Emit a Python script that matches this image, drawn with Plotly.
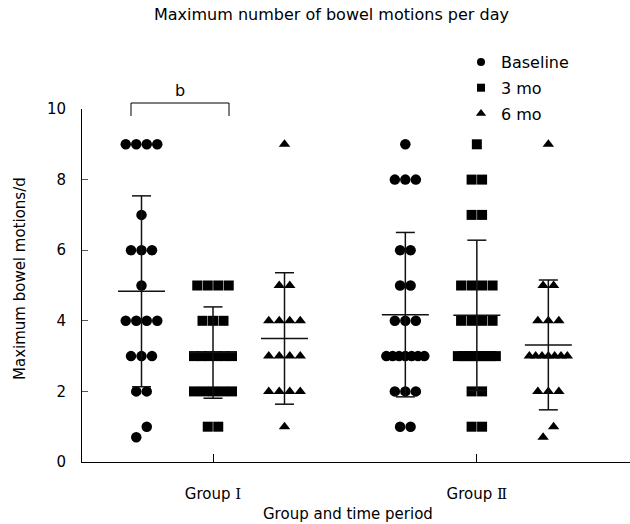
import numpy as np
import plotly.graph_objects as go

# ---- data ----
groups = ["Group Ⅰ", "Group Ⅱ"]
periods = ["Baseline", "3 mo", "6 mo"]

g1_baseline = [9, 9, 9, 9, 7, 6, 6, 6, 5, 4, 4, 4, 4, 3, 3, 3, 2, 2, 1, 0.7]
g1_3mo = [5, 5, 5, 5, 4, 4, 4, 3, 3, 3, 3, 3, 3, 2, 2, 2, 2, 2, 1, 1]
g1_6mo = [9, 5, 5, 4, 4, 4, 4, 3, 3, 3, 3, 2, 2, 2, 2, 1]
g2_baseline = [9, 8, 8, 8, 6, 6, 5, 5, 4, 4, 4, 3, 3, 3, 3, 3, 3, 3, 2, 2, 2, 1, 1]
g2_3mo = [9, 8, 8, 7, 7, 5, 5, 5, 5, 4, 4, 4, 4, 3, 3, 3, 3, 3, 3, 3, 3, 3, 2, 2, 1, 1]
g2_6mo = [9, 5, 5, 4, 4, 4, 3, 3, 3, 3, 3, 3, 3, 2, 2, 2, 1, 0.7]

values = {
    ("Group Ⅰ", "Baseline"): g1_baseline,
    ("Group Ⅰ", "3 mo"): g1_3mo,
    ("Group Ⅰ", "6 mo"): g1_6mo,
    ("Group Ⅱ", "Baseline"): g2_baseline,
    ("Group Ⅱ", "3 mo"): g2_3mo,
    ("Group Ⅱ", "6 mo"): g2_6mo,
}

# ---- layout / style ----
FONT = "DejaVu Sans"
PX_PER_UNIT = 71.5
group_center = {"Group Ⅰ": 2.0, "Group Ⅱ": 5.69}
period_offset = {"Baseline": -1.0, "3 mo": 0.0, "6 mo": 1.0}
symbols = {"Baseline": "circle", "3 mo": "square", "6 mo": "triangle-up"}
sizes = {"Baseline": 10.5, "3 mo": 10, "6 mo": 10}
legend_sizes = {"Baseline": 8, "3 mo": 8, "6 mo": 9}


def spread(vals, center):
    """Horizontal scatter of points sharing (rounded) the same value."""
    vals = sorted(vals)
    rows = {}
    for v in vals:
        rows.setdefault(int(round(v)), []).append(v)
    xs, ys = [], []
    for key, row in rows.items():
        n = len(row)
        sp = 10.5 if n == 1 else min(10.5, 38.0 / (n - 1))
        for i, v in enumerate(row):
            xs.append(center + (i - (n - 1) / 2) * sp / PX_PER_UNIT)
            ys.append(v)
    return xs, ys


def tick_label(g):
    name, num = g.split(" ")
    return f"{name} <span style=\"font-family:'DejaVu Serif'\">{num}</span>"


fig = go.Figure()

for p in periods:
    X, Y = [], []
    for g in groups:
        c = group_center[g] + period_offset[p]
        xs, ys = spread(values[(g, p)], c)
        X += xs
        Y += ys
    fig.add_trace(go.Scatter(
        x=X, y=Y, mode="markers", name=p, showlegend=False,
        marker=dict(symbol=symbols[p], size=sizes[p], color="black",
                    line=dict(width=0)),
        cliponaxis=False,
    ))

# legend entries
for p in periods:
    fig.add_trace(go.Scatter(
        x=[None], y=[None], mode="markers", name=p, legendgroup=p,
        marker=dict(symbol=symbols[p], size=legend_sizes[p], color="black",
                    line=dict(width=0)),
    ))

# mean ± SD bars
cap_half = 9.5 / PX_PER_UNIT
mean_half = 23.5 / PX_PER_UNIT
LX, LY = [], []
for g in groups:
    for p in periods:
        arr = np.array(values[(g, p)], dtype=float)
        m = arr.mean()
        sd = arr.std(ddof=1)
        c = group_center[g] + period_offset[p]
        LX += [c, c, None, c - cap_half, c + cap_half, None,
               c - cap_half, c + cap_half, None, c - mean_half, c + mean_half, None]
        LY += [m - sd, m + sd, None, m + sd, m + sd, None,
               m - sd, m - sd, None, m, m, None]
fig.add_trace(go.Scatter(x=LX, y=LY, mode="lines", showlegend=False,
                         line=dict(color="#111111", width=1.5),
                         hoverinfo="skip", cliponaxis=False))

W, H = 630, 524
L, R, T, B = 82, 0, 109, 62
plot_w = W - L - R
plot_h = H - T - B
x0 = 2.0 - (213 - L) / PX_PER_UNIT
x1 = 2.0 + (W - 213) / PX_PER_UNIT


def py(pix):
    return (H - B - pix) / plot_h


def px_paper(pix):
    return (pix - L) / plot_w


def xdata(pix):
    return 2.0 + (pix - 213) / PX_PER_UNIT


fig.update_layout(
    width=W, height=H,
    margin=dict(l=L, r=R, t=T, b=B),
    paper_bgcolor="white", plot_bgcolor="white",
    font=dict(family=FONT, size=15, color="black"),
    showlegend=True,
    legend=dict(x=px_paper(461), y=py(45), xanchor="left", yanchor="top",
                font=dict(family=FONT, size=16, color="black"),
                tracegroupgap=2, bgcolor="rgba(0,0,0,0)",
                traceorder="grouped"),
    xaxis=dict(range=[x0, x1], tickvals=[group_center[g] for g in groups],
               ticktext=[tick_label(g) for g in groups],
               ticks="inside", ticklen=8, tickcolor="black",
               showline=True, linecolor="black", linewidth=1,
               showgrid=False, zeroline=False,
               tickfont=dict(family=FONT, size=15), ticklabelstandoff=18),
    yaxis=dict(range=[0, 10], tickvals=[0, 2, 4, 6, 8, 10],
               ticks="inside", ticklen=6, tickcolor="#555555",
               showline=True, linecolor="black", linewidth=1,
               showgrid=False, zeroline=False,
               tickfont=dict(family=FONT, size=15), ticklabelstandoff=12),
    annotations=[
        dict(text="Maximum number of bowel motions per day", xref="paper", yref="paper",
             x=px_paper(331), y=py(14), xanchor="center", yanchor="middle",
             showarrow=False, font=dict(family=FONT, size=16)),
        dict(text="Group and time period", xref="paper", yref="paper",
             x=px_paper(348), y=py(514), xanchor="center", yanchor="middle",
             showarrow=False, font=dict(family=FONT, size=15)),
        dict(text="Maximum bowel motions/d", xref="paper", yref="paper",
             x=px_paper(20), y=py(279), xanchor="center", yanchor="middle",
             textangle=-90, showarrow=False, font=dict(family=FONT, size=15)),
        dict(text="b", xref="x", yref="paper",
             x=xdata(180), y=py(90), xanchor="center", yanchor="middle",
             showarrow=False, font=dict(family=FONT, size=16)),
    ],
    shapes=[
        dict(type="path", xref="x", yref="paper",
             path=f"M {xdata(131)} {py(116)} L {xdata(131)} {py(103)} "
                  f"L {xdata(229)} {py(103)} L {xdata(229)} {py(116)}",
             line=dict(color="black", width=1)),
    ],
)

fig.write_html("out.html")
